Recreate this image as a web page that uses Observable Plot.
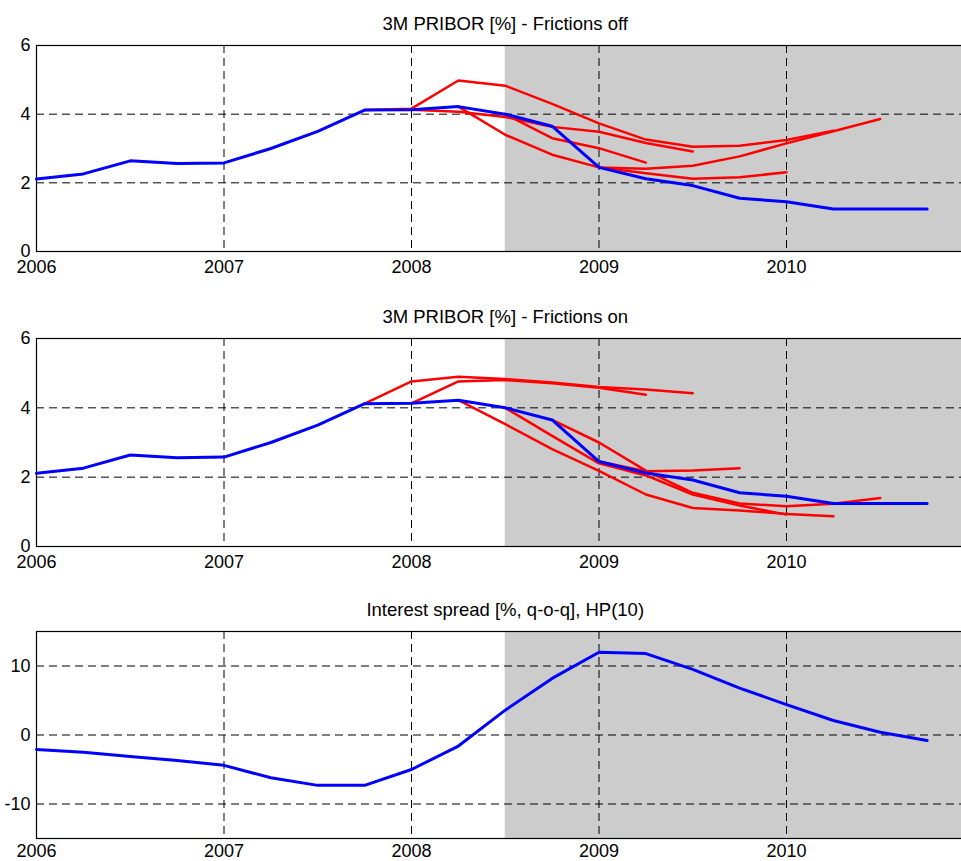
<!DOCTYPE html>
<html>
<head>
<meta charset="utf-8">
<script src="https://cdn.jsdelivr.net/npm/d3@7"></script>
<script src="https://cdn.jsdelivr.net/npm/@observablehq/plot@0.6"></script>
<style>
  html, body { margin: 0; padding: 0; background: #fff; overflow: hidden; }
  #fig { position: relative; width: 961px; height: 861px; }
  #fig .panel { position: absolute; left: 0; }
</style>
</head>
<body>
<div id="fig"></div>
<script>
// Observed quarters
const quarters = [
  "2006Q1", "2006Q2", "2006Q3", "2006Q4",
  "2007Q1", "2007Q2", "2007Q3", "2007Q4",
  "2008Q1", "2008Q2", "2008Q3", "2008Q4",
  "2009Q1", "2009Q2", "2009Q3", "2009Q4",
  "2010Q1", "2010Q2", "2010Q3", "2010Q4"
];

// 3M PRIBOR, actual [%]
const pribor = [2.11, 2.26, 2.64, 2.56, 2.58, 3.00, 3.50, 4.12, 4.13, 4.22,
                4.00, 3.65, 2.45, 2.12, 1.92, 1.55, 1.45, 1.24, 1.24, 1.24];

// Interest spread [%, q-o-q], HP(10)
const spread = [-2.1, -2.5, -3.1, -3.7, -4.4, -6.2, -7.3, -7.3, -5.0, -1.6,
                3.6, 8.2, 12.0, 11.8, 9.5, 6.8, 4.4, 2.1, 0.4, -0.8];

// Model forecasts of 3M PRIBOR, frictions switched off (first value = starting quarter)
const offFrom2007Q4 = [4.12, 4.16, 4.98, 4.83, 4.30, 3.73, 3.26, 3.05, 3.08, 3.25, 3.52];
const offFrom2008Q1 = [4.13, 4.07, 3.92, 3.63, 3.49, 3.16, 2.91];
const offFrom2008Q2 = [4.22, 3.40, 2.82, 2.45, 2.28, 2.12, 2.16, 2.31];
const offFrom2008Q3 = [4.00, 3.30, 3.01, 2.59];
const offFrom2009Q1 = [2.45, 2.41, 2.50, 2.77, 3.15, 3.50, 3.86];

// Model forecasts of 3M PRIBOR, frictions switched on
const onFrom2007Q4 = [4.12, 4.76, 4.90, 4.83, 4.73, 4.60, 4.53, 4.42];
const onFrom2008Q1 = [4.13, 4.76, 4.80, 4.71, 4.58, 4.38];
const onFrom2008Q2 = [4.22, 3.53, 2.81, 2.18, 1.50, 1.11, 1.04, 0.94, 0.87];
const onFrom2008Q3 = [4.00, 3.19, 2.40, 2.05, 1.50, 1.18, 0.92];
const onFrom2008Q4 = [3.65, 3.00, 2.19, 1.55, 1.24, 1.16, 1.23, 1.40];
const onFrom2009Q1 = [2.45, 2.17, 2.19, 2.26];

const offPaths = [
  {from: "2007Q4", values: offFrom2007Q4},
  {from: "2008Q1", values: offFrom2008Q1},
  {from: "2008Q2", values: offFrom2008Q2},
  {from: "2008Q3", values: offFrom2008Q3},
  {from: "2009Q1", values: offFrom2009Q1}
];
const onPaths = [
  {from: "2007Q4", values: onFrom2007Q4},
  {from: "2008Q1", values: onFrom2008Q1},
  {from: "2008Q2", values: onFrom2008Q2},
  {from: "2008Q3", values: onFrom2008Q3},
  {from: "2008Q4", values: onFrom2008Q4},
  {from: "2009Q1", values: onFrom2009Q1}
];

// Crisis period shading starts here
const shadeStart = "2008Q3";
const xTicks = [2006, 2007, 2008, 2009, 2010];
const xEnd = 2011;

// "2008Q3" -> 2008.5
function toYear(q) {
  const [y, k] = q.split("Q");
  return +y + (+k - 1) / 4;
}

const actualRows = (values) => quarters.map((q, i) => ({t: toYear(q), v: values[i]}));
const pathRows = (paths) => paths.flatMap((p, i) =>
  p.values.map((v, j) => ({t: toYear(p.from) + j / 4, v, run: i})));

const FONT = "'Liberation Sans', Arial, Helvetica, sans-serif";

function panel({title, yDomain, yTicks, actual, paths, height, marginBottom, xPad}) {
  const dashed = {stroke: "black", strokeOpacity: 1, strokeWidth: 1, strokeDasharray: "8,5"};
  const marks = [
    Plot.rect([{x1: toYear(shadeStart), x2: xEnd}], {x1: "x1", x2: "x2", fill: "#cccccc"}),
    Plot.gridX(xTicks, dashed),
    Plot.gridY(yTicks, dashed),
    Plot.frame({stroke: "black", strokeWidth: 1.2}),
    Plot.axisX(xTicks, {tickSize: 0, tickPadding: xPad, tickFormat: (d) => String(d), label: null, fontSize: 18}),
    Plot.axisY(yTicks, {tickSize: 0, tickPadding: 6, tickFormat: (d) => String(d), label: null, fontSize: 18})
  ];
  if (paths) {
    marks.push(Plot.line(pathRows(paths), {x: "t", y: "v", z: "run", stroke: "#ff0000", strokeWidth: 2.5}));
  }
  marks.push(Plot.line(actualRows(actual), {x: "t", y: "v", stroke: "#0000ff", strokeWidth: 3}));
  marks.push(Plot.text([title], {frameAnchor: "top", dy: -15.5, lineAnchor: "bottom", fontSize: 18.5, fill: "black"}));
  return Plot.plot({
    width: 961,
    height,
    marginLeft: 36,
    marginRight: -12.5,
    marginTop: 45,
    marginBottom,
    x: {domain: [xTicks[0], xEnd]},
    y: {domain: yDomain},
    style: {fontFamily: FONT, fontSize: "18px", color: "black", background: "white", overflow: "visible"},
    marks
  });
}

const fig = document.getElementById("fig");
const panels = [
  {top: 0, spec: {title: "3M PRIBOR [%] - Frictions off", yDomain: [0, 6], yTicks: [0, 2, 4, 6],
                  actual: pribor, paths: offPaths, height: 293, marginBottom: 42, xPad: 9}},
  {top: 293, spec: {title: "3M PRIBOR [%] - Frictions on", yDomain: [0, 6], yTicks: [0, 2, 4, 6],
                    actual: pribor, paths: onPaths, height: 293, marginBottom: 40, xPad: 9}},
  {top: 586, spec: {title: "Interest spread [%, q-o-q], HP(10)", yDomain: [-15, 15], yTicks: [-10, 0, 10],
                    actual: spread, paths: null, height: 275, marginBottom: 23, xPad: 6}}
];
for (const {top, spec} of panels) {
  const wrap = document.createElement("div");
  wrap.className = "panel";
  wrap.style.top = top + "px";
  wrap.appendChild(panel(spec));
  fig.appendChild(wrap);
}
</script>
</body>
</html>
